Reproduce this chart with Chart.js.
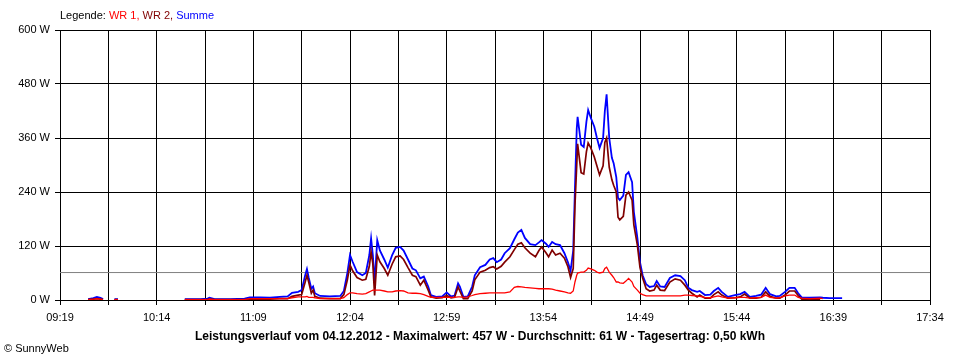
<!DOCTYPE html>
<html>
<head>
<meta charset="utf-8">
<script src="https://cdn.jsdelivr.net/npm/chart.js@4.4.1/dist/chart.umd.min.js"></script>
<style>
    body { margin: 0; background: #ffffff; }
    #LeistungChart { display: block; }
</style>
</head>
<body>
<canvas id="LeistungChart" width="960" height="360"></canvas>
<script>
// Messzeitpunkte (hh:mm oder hh:mm:ss)
const times = [
    "09:35", "09:38", "09:40", "09:42", "09:43:30", "09:46", "09:50", "09:52", "10:00",
    "10:30", "10:39", "10:43", "10:44", "10:47", "10:56", "11:04", "11:07", "11:13", "11:18:30",
    "11:24", "11:28:30", "11:31", "11:34:30", "11:36:30", "11:38:30", "11:39:30", "11:40:30", "11:42", "11:43",
    "11:44", "11:47", "11:52:30", "11:58:30", "12:00:30", "12:02:30", "12:04", "12:05:30", "12:08", "12:11",
    "12:13", "12:15", "12:16", "12:17", "12:18", "12:19:30", "12:21", "12:23:30", "12:25:30", "12:28",
    "12:30", "12:32:30", "12:34:30", "12:37", "12:39:30", "12:41:30", "12:44", "12:46", "12:48:30", "12:50",
    "12:53", "12:56:30", "12:59", "13:01:30", "13:03:30", "13:05:30", "13:06:30", "13:08:30", "13:11", "13:13:30",
    "13:15", "13:18", "13:21", "13:23:30", "13:25:30", "13:27:30", "13:30", "13:32", "13:35", "13:37:30",
    "13:39:30", "13:41:30", "13:43:30", "13:46:30", "13:49:30", "13:51:30", "13:53", "13:55:30", "13:57", "13:59",
    "14:01", "14:03:30", "14:06", "14:08", "14:09:30", "14:11", "14:12", "14:13", "14:13:30", "14:15:30",
    "14:17", "14:18:30", "14:19:30", "14:21", "14:23", "14:24:30", "14:26", "14:28", "14:29", "14:30",
    "14:31:30", "14:33", "14:34", "14:35:30", "14:36:30", "14:37:30", "14:39:30", "14:41", "14:42:30", "14:44:30",
    "14:45:30", "14:47:30", "14:49", "14:50:30", "14:52:30", "14:54:30", "14:57", "14:58:30", "15:00:30", "15:03",
    "15:06", "15:09", "15:12", "15:14:30", "15:16:30", "15:18:30", "15:21:30", "15:23", "15:26", "15:29",
    "15:31", "15:33:30", "15:35:30", "15:39", "15:43", "15:46", "15:48:30", "15:51:30", "15:55", "15:58",
    "16:00:30", "16:03", "16:06:30", "16:08:30", "16:11:30", "16:14", "16:17", "16:19", "16:21", "16:25:30",
    "16:31:30", "16:33", "16:37", "16:44"
];

// Summe (W)
const summe = [
    2, 4, 7, 5, 2, null, 2, 2, null,
    2, 2, 3, 5, 2, 2, 3, 6, 6, 5,
    7, 8, 16, 18, 22, 55, 69, 50, 25, 30,
    15, 9, 8, 9, 20, 60, 100, 85, 62, 55,
    60, 100, 137, 100, 40, 133, 110, 90, 72, 100,
    116, 118, 110, 90, 70, 66, 48, 52, 30, 11,
    7, 8, 17, 8, 10, 37, 30, 7, 8, 30,
    55, 73, 78, 90, 93, 84, 90, 104, 115, 135,
    150, 156, 138, 124, 122, 128, 133, 125, 118, 129,
    124, 122, 104, 84, 65, 110, 250, 380, 407, 345,
    340, 396, 422, 405, 385, 360, 338, 360, 420, 457,
    360, 316, 304, 273, 227, 222, 232, 278, 284, 262,
    196, 138, 84, 55, 35, 29, 31, 42, 30, 29,
    49, 55, 53, 44, 27, 22, 18, 20, 11, 12,
    20, 27, 18, 7, 11, 13, 18, 7, 9, 12,
    27, 13, 8, 9, 18, 27, 27, 15, 6, 5,
    6, 5, 4, 4
];

// WR 2 (W)
const wr2 = [
    1, 2, 3, 2, 1, null, 1, 1, null,
    1, 1, 1, 2, 1, 1, 1, 2, 2, 2,
    3, 3, 8, 11, 12, 40, 55, 40, 15, 22,
    8, 4, 3, 3, 12, 45, 78, 65, 50, 44,
    46, 75, 107, 80, 10, 100, 85, 70, 55, 80,
    96, 98, 90, 72, 55, 52, 33, 44, 22, 7,
    4, 5, 10, 5, 6, 29, 20, 3, 3, 20,
    45, 62, 66, 72, 74, 69, 75, 84, 96, 112,
    124, 127, 116, 104, 96, 110, 118, 105, 96, 111,
    100, 104, 93, 74, 50, 70, 210, 300, 347, 283,
    280, 329, 349, 338, 318, 298, 278, 298, 350, 360,
    295, 267, 255, 240, 184, 178, 186, 233, 240, 222,
    167, 122, 72, 49, 25, 20, 22, 33, 22, 21,
    40, 47, 44, 33, 22, 15, 7, 11, 4, 4,
    12, 18, 11, 4, 5, 7, 13, 4, 4, 6,
    18, 8, 4, 4, 11, 20, 20, 10, 2, 2,
    2, null, null, null
];

// WR 1 (W)
const wr1 = [
    1, 2, 3, 2, 1, null, 1, 1, null,
    1, 1, 1, 2, 1, 1, 1, 3, 3, 3,
    3, 3, 5, 7, 7, 7, 8, 6, 6, 6,
    5, 3, 3, 3, 5, 12, 16, 16, 14, 13,
    14, 18, 20, 22, 22, 22, 22, 20, 18, 18,
    20, 21, 20, 16, 15, 15, 14, 12, 8, 6,
    6, 6, 6, 6, 6, 7, 7, 6, 7, 10,
    12, 14, 15, 16, 16, 16, 16, 16, 18, 28,
    30, 29, 28, 27, 26, 25, 25, 25, 25, 24,
    22, 20, 18, 16, 15, 20, 40, 55, 60, 62,
    62, 66, 71, 69, 66, 62, 60, 62, 70, 73,
    62, 55, 50, 40, 40, 38, 37, 42, 48, 40,
    30, 22, 15, 12, 9, 9, 9, 9, 9, 9,
    9, 9, 9, 11, 11, 10, 9, 8, 6, 5,
    7, 9, 7, 4, 5, 6, 6, 4, 5, 6,
    11, 6, 4, 5, 9, 11, 11, 6, 4, 3,
    4, 3, null, null
];

const avgValue = 61;
const xTickLabels = ["09:19", "10:14", "11:09", "12:04", "12:59", "13:54", "14:49", "15:44", "16:39", "17:34"];
const yTickValues = [0, 120, 240, 360, 480, 600];

const legendParts = [
    ["Legende: ", "#000000"],
    ["WR 1, ", "#ff0000"],
    ["WR 2, ", "#800000"],
    ["Summe", "#0000ff"]
];
const titleText = "Leistungsverlauf vom 04.12.2012 - Maximalwert: 457 W - Durchschnitt: 61 W - Tagesertrag: 0,50 kWh";
const copyrightText = "\u00a9 SunnyWeb";

const fontFamily = '"Liberation Sans", Arial, sans-serif';

function toMinutes(str) {
    let parts = str.split(":");
    let m = parseInt(parts[0], 10) * 60 + parseInt(parts[1], 10);
    if (parts.length > 2) {
        m += parseInt(parts[2], 10) / 60;
    }
    return m;
}

function toPoints(values) {
    let points = [];
    for (let i = 0; i < times.length; i++) {
        points.push({ x: toMinutes(times[i]), y: values[i] });
    }
    return points;
}

function minutesToLabel(m) {
    let h = Math.floor(m / 60);
    let mm = Math.round(m - h * 60);
    return String(h).padStart(2, "0") + ":" + String(mm).padStart(2, "0");
}

// Gitterlinien: beschriftete Zeiten plus jeweils die Mitte dazwischen
let gridMinutes = [];
for (let i = 0; i < xTickLabels.length; i++) {
    let m = toMinutes(xTickLabels[i]);
    gridMinutes.push(m);
    if (i < xTickLabels.length - 1) {
        gridMinutes.push((m + toMinutes(xTickLabels[i + 1])) / 2);
    }
}
const xMin = toMinutes(xTickLabels[0]);
const xMax = toMinutes(xTickLabels[xTickLabels.length - 1]);

const textPlugin = {
    id: "sunnyText",
    afterDraw: function (chart) {
        let ctx = chart.ctx;
        ctx.save();
        ctx.textBaseline = "middle";

        // Legende oben links
        ctx.font = "11px " + fontFamily;
        ctx.textAlign = "left";
        let x = chart.chartArea.left;
        for (let i = 0; i < legendParts.length; i++) {
            ctx.fillStyle = legendParts[i][1];
            ctx.fillText(legendParts[i][0], x, 16);
            x += ctx.measureText(legendParts[i][0]).width;
        }

        // Unterschrift
        ctx.font = "bold 12px " + fontFamily;
        ctx.textAlign = "center";
        ctx.fillStyle = "#000000";
        ctx.fillText(titleText, 480, 337);

        ctx.font = "11px " + fontFamily;
        ctx.textAlign = "left";
        ctx.fillText(copyrightText, 4, 349);
        ctx.restore();
    }
};

const config = {
    type: "line",
    data: {
        datasets: [
            {
                label: "WR 1",
                data: toPoints(wr1),
                borderColor: "#ff0000",
                borderWidth: 1.3,
                order: 1
            },
            {
                label: "WR 2",
                data: toPoints(wr2),
                borderColor: "#800000",
                borderWidth: 1.7,
                order: 2
            },
            {
                label: "Summe",
                data: toPoints(summe),
                borderColor: "#0000ff",
                borderWidth: 1.8,
                order: 3
            },
            {
                label: "Durchschnitt",
                data: [{ x: xMin, y: avgValue }, { x: xMax, y: avgValue }],
                borderColor: "#808080",
                borderWidth: 1,
                order: 10
            }
        ]
    },
    options: {
        responsive: false,
        animation: false,
        spanGaps: false,
        elements: {
            point: { radius: 0 },
            line: { tension: 0 }
        },
        layout: {
            padding: { top: 30, right: 30, left: 0, bottom: 0 }
        },
        plugins: {
            legend: { display: false },
            tooltip: { enabled: false }
        },
        scales: {
            x: {
                type: "linear",
                min: xMin,
                max: xMax,
                afterBuildTicks: function (scale) {
                    scale.ticks = gridMinutes.map(function (v) { return { value: v }; });
                },
                afterFit: function (scale) {
                    scale.height = 60;
                },
                ticks: {
                    autoSkip: false,
                    maxRotation: 0,
                    padding: 6,
                    color: "#000000",
                    font: { family: fontFamily, size: 11 },
                    callback: function (value) {
                        let label = minutesToLabel(value);
                        return xTickLabels.includes(label) && Number.isInteger(value) ? label : "";
                    }
                },
                grid: {
                    color: "#000000",
                    lineWidth: 1,
                    tickLength: 5,
                    drawTicks: true
                },
                border: { color: "#000000", width: 1 }
            },
            y: {
                min: 0,
                max: 600,
                afterBuildTicks: function (scale) {
                    scale.ticks = yTickValues.map(function (v) { return { value: v }; });
                },
                afterFit: function (scale) {
                    scale.width = 60;
                },
                ticks: {
                    padding: 5,
                    color: "#000000",
                    font: { family: fontFamily, size: 11 },
                    callback: function (value) {
                        return value + " W";
                    }
                },
                grid: {
                    color: "#000000",
                    lineWidth: 1,
                    tickLength: 5,
                    drawTicks: true
                },
                border: { color: "#000000", width: 1 }
            }
        }
    },
    plugins: [textPlugin]
};

const leistungChart = new Chart(document.getElementById("LeistungChart"), config);
</script>
</body>
</html>
